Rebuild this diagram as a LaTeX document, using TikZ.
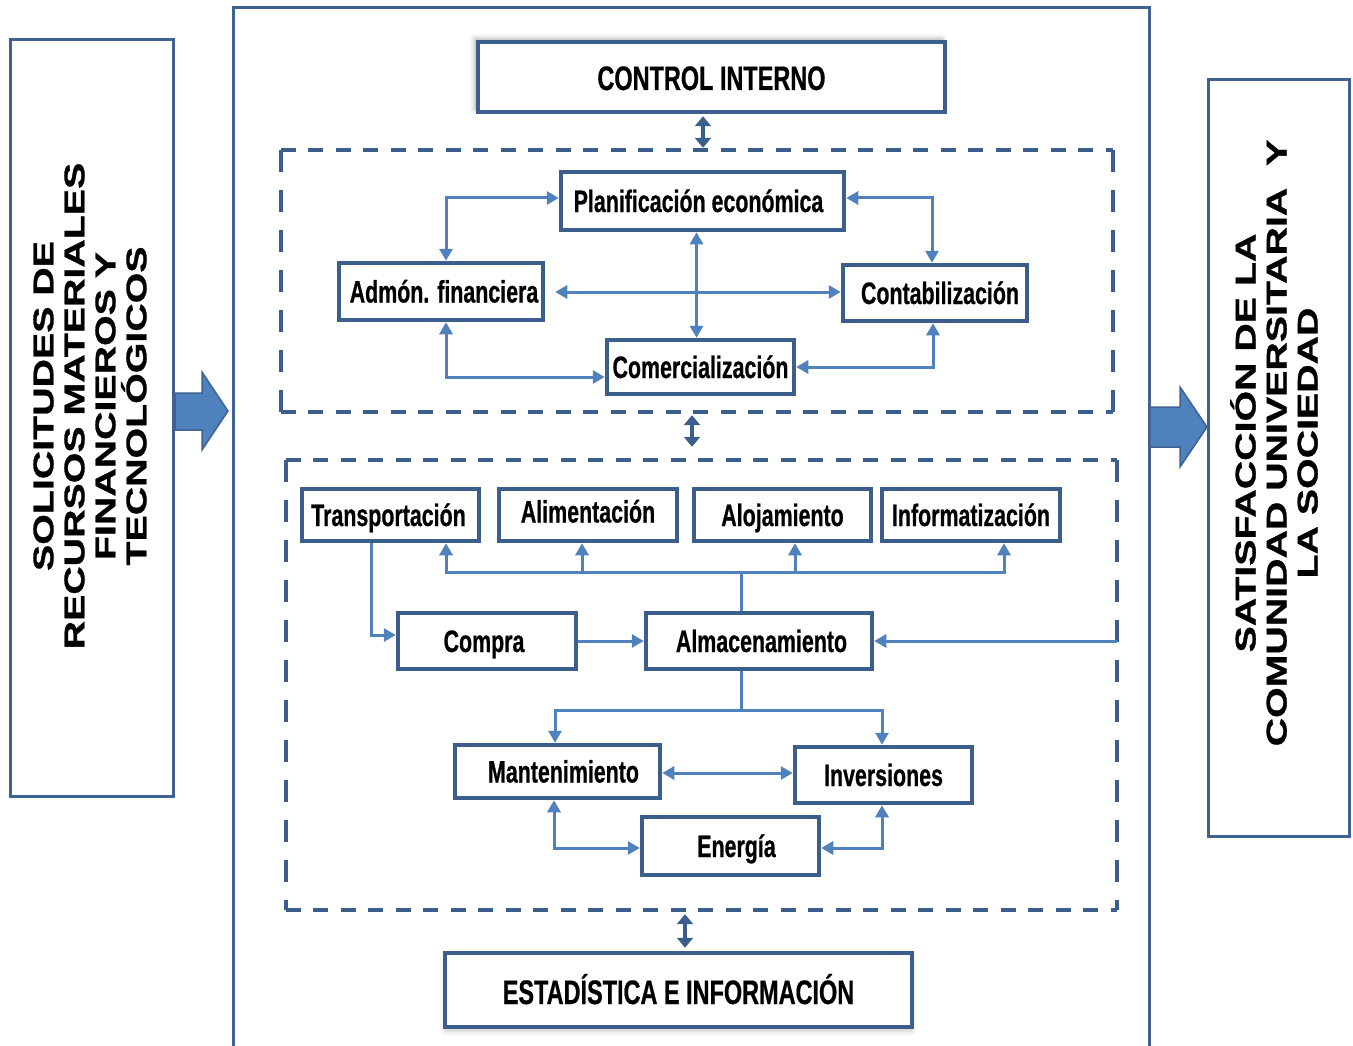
\documentclass[tikz,border=0pt]{standalone}
\usepackage{fontspec}
\newfontfamily\narrowbf[FakeStretch=0.69, FakeBold=0.6]{Liberation Sans}
\newfontfamily\widebf[FakeStretch=1.38, FakeBold=1]{Liberation Sans}
\usetikzlibrary{arrows.meta,shadows.blur,calc}
\definecolor{frameblue}{HTML}{3D6293}
\definecolor{boxblue}{HTML}{3B5E8C}
\definecolor{linkblue}{HTML}{4F81BD}
\definecolor{arrowfill}{HTML}{4F81BD}
\tikzset{
  frame/.style={draw=frameblue, line width=3pt},
  unit/.style={draw=boxblue, line width=4.5pt, fill=white, inner sep=0pt,
    text height=22pt, text depth=0pt,
    font=\narrowbf\bfseries\fontsize{31}{36}\selectfont},
  headbox/.style={unit, text height=26pt,
    font=\narrowbf\bfseries\fontsize{34}{40}\selectfont},
  lnk/.style={draw=linkblue, line width=3pt, >={Triangle[length=12pt,width=13pt]}},
  hdash/.style={draw=boxblue, line width=4pt, dash pattern=on 15pt off 12.5pt},
  vdash/.style={draw=boxblue, line width=4pt, dash pattern=on 22pt off 18pt},
  thicklink/.style={draw=boxblue, line width=4.5pt,
    {Triangle[length=10pt,width=16pt]}-{Triangle[length=10pt,width=16pt]}},
  bigarrow/.style={fill=arrowfill, draw=frameblue, line width=1.5pt, line join=miter},
  sidetext/.style={rotate=90, align=center, inner sep=0pt,
    font=\widebf\bfseries\fontsize{28.5}{31}\selectfont},
}
\begin{document}
\begin{tikzpicture}[x=1pt,y=-1pt]
\path[use as bounding box] (0,0) rectangle (1353,1046);
\clip (0,0) rectangle (1353,1046);

% side boxes and main frame
\draw[frame] (10,40) rectangle (173,796);
\node[sidetext] (inputs) at (90,406) {SOLICITUDES DE\\RECURSOS MATERIALES\\FINANCIEROS Y\\TECNOLÓGICOS};
\draw[frame] (1208,80) rectangle (1349,836);
\node[sidetext] (outputs) at (1274,443) {SATISFACCIÓN DE LA\\COMUNIDAD UNIVERSITARIA\ \ Y\\LA SOCIEDAD};
\draw[frame] (233,1070) -- (233,8) -- (1149,8) -- (1149,1070);

% block arrows in and out of the system
\draw[bigarrow] (175,393) -- (202,393) -- (202,372) -- (228,411) -- (202,450) -- (202,430) -- (175,430) -- cycle;
\draw[bigarrow] (1150,407) -- (1180,407) -- (1180,387) -- (1207,427) -- (1180,467) -- (1180,447) -- (1150,447) -- cycle;

% top and bottom headers
\node[headbox, minimum width=467pt, minimum height=70pt,
  blur shadow={shadow xshift=-3pt, shadow yshift=3pt, shadow blur radius=5pt, shadow opacity=35}]
  (ctrl) at (711.5,77) {CONTROL INTERNO};
\node[headbox, text height=28pt, minimum width=467pt, minimum height=74pt,
  blur shadow={shadow xshift=0pt, shadow yshift=-4pt, shadow blur radius=5pt, shadow opacity=20}]
  (est) at (678.5,990) {ESTADÍSTICA E INFORMACIÓN};

% dashed groups
\node[inner sep=0pt, minimum width=832pt, minimum height=262pt] (grpA) at (697,281) {};
\node[inner sep=0pt, minimum width=831pt, minimum height=450pt] (grpB) at (701.5,685) {};
\foreach \g in {grpA,grpB}{
  \draw[hdash] (\g.north west) -- (\g.north east);
  \draw[hdash] (\g.south west) -- (\g.south east);
  \draw[vdash] (\g.north west) -- (\g.south west);
  \draw[vdash] (\g.north east) -- (\g.south east);
}

% economic area
\node[unit, minimum width=283pt, minimum height=58pt] (plan)  at (702.5,201) {Planificación económica\hspace*{8pt}};
\node[unit, minimum width=204pt, minimum height=57pt] (admon) at (441,291.5) {\hspace*{6pt}Admón. financiera};
\node[unit, minimum width=184pt, minimum height=56pt] (conta) at (935,293) {\hspace*{10pt}Contabilización};
\node[unit, minimum width=187pt, minimum height=54pt] (comer) at (700.5,367) {Comercialización};

% logistics area
\node[unit, minimum width=177pt, minimum height=52pt] (transp) at (390.5,515) {Transportación\hspace*{4pt}};
\node[unit, text depth=7pt, minimum width=178pt, minimum height=52pt] (alim) at (588,515) {Alimentación};
\node[unit, minimum width=177pt, minimum height=52pt] (aloj)   at (782.5,515) {Alojamiento};
\node[unit, minimum width=178pt, minimum height=52pt] (info)   at (971,515) {Informatización};
\node[unit, minimum width=178pt, minimum height=56pt] (compra) at (487,641) {Compra\hspace*{6pt}};
\node[unit, minimum width=226pt, minimum height=56pt] (alma)   at (759,641) {\hspace*{5pt}Almacenamiento};
\node[unit, minimum width=205pt, minimum height=53pt] (mant)   at (557.5,771.5) {\hspace*{12pt}Mantenimiento};
\node[unit, minimum width=177pt, minimum height=56pt] (inv)    at (883.5,775) {Inversiones};
\node[unit, minimum width=177pt, minimum height=58pt] (ener)   at (730.5,846) {\hspace*{12pt}Energía};

% links between the levels
\draw[thicklink, shorten <=2pt, shorten >=2pt] ([xshift=-8.5pt]ctrl.south) -- ([xshift=-8.5pt]ctrl.south |- grpA.north);
\draw[thicklink, shorten <=3pt, shorten >=13pt] ([xshift=-5pt]grpA.south) -- ([xshift=-5pt]grpA.south |- grpB.north);
\draw[thicklink, shorten <=4pt, shorten >=3pt] ([xshift=-16.5pt]grpB.south) -- ([xshift=6.5pt]est.north);

% links in the economic area
\draw[lnk, <->] ([xshift=5pt]admon.north) |- ([yshift=3pt]plan.west);
\draw[lnk, <->] ([yshift=3pt]plan.east) -| ([xshift=-3pt]conta.north);
\draw[lnk, <->, shorten <=10pt] ([yshift=-0.5pt]admon.east) -- ([yshift=-0.5pt]admon.east -| conta.west);
\draw[lnk, <->] ([xshift=-6pt]plan.south) -- ([xshift=-6pt]plan.south |- comer.north);
\draw[lnk, <->] ([xshift=5pt]admon.south) |- ([yshift=-10pt]comer.west);
\draw[lnk, <->] ([xshift=-2pt]conta.south) |- (comer.east);

% links in the logistics area
\coordinate (busup) at (741,572);
\coordinate (busdown) at (741,710);
\draw[lnk] ([xshift=-18pt]alma.north) -- (busup);
\draw[lnk, ->] (busup) -| ([xshift=55.5pt]transp.south);
\draw[lnk, ->] (busup) -| ([xshift=-6pt]alim.south);
\draw[lnk, ->] (busup) -| ([xshift=12.5pt]aloj.south);
\draw[lnk, ->] (busup) -| ([xshift=33pt]info.south);
\draw[lnk, ->] ([xshift=-19.5pt]transp.south) |- ([yshift=6pt]compra.west);
\draw[lnk, ->] (compra.east) -- (alma.west);
\draw[lnk, ->] (grpB.east |- alma.east) -- (alma.east);
\draw[lnk] ([xshift=-18pt]alma.south) -- (busdown);
\draw[lnk, ->] (busdown) -| ([xshift=-2.5pt]mant.north);
\draw[lnk, ->] (busdown) -| ([xshift=-1.5pt]inv.north);
\draw[lnk, <->] ([yshift=-1.5pt]mant.east) -- ([yshift=-1.5pt]mant.east -| inv.west);
\draw[lnk, <->] ([xshift=-3.5pt]mant.south) |- ([yshift=-2pt]ener.west);
\draw[lnk, <->] ([xshift=-1.5pt]inv.south) |- ([yshift=-2pt]ener.east);
\end{tikzpicture}
\end{document}
